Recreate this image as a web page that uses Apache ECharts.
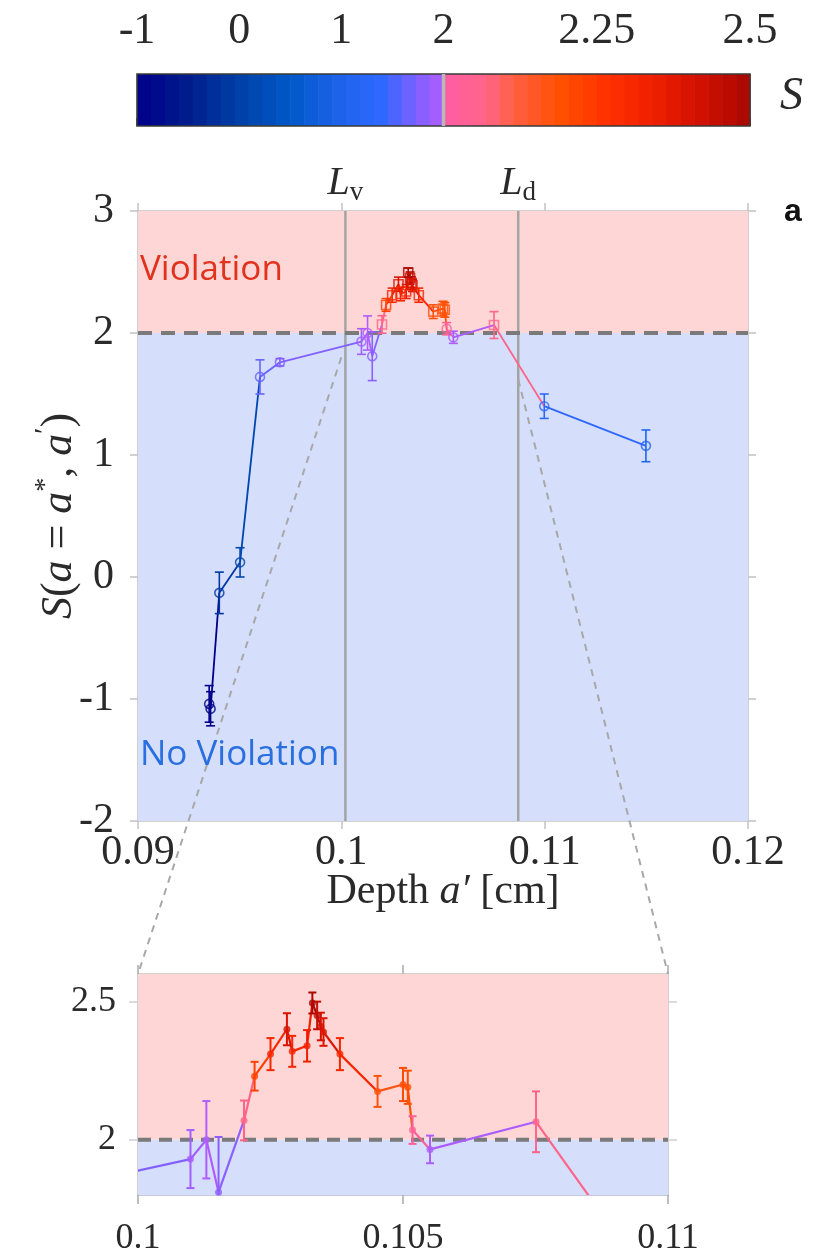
<!DOCTYPE html>
<html>
<head>
<meta charset="utf-8">
<script src="https://cdn.jsdelivr.net/npm/echarts@6/dist/echarts.min.js"></script>
<style>html,body{margin:0;padding:0;background:#fff}#c{width:822px;height:1255px}</style>
</head>
<body>
<div id="c"></div>
<script>
// ---------------- data ----------------
const depth  = [0.09350, 0.09357, 0.09400, 0.09502, 0.09600, 0.09698, 0.10099, 0.10129, 0.10152, 0.10200,
                0.10220, 0.10250, 0.10281, 0.10291, 0.10319, 0.10329, 0.10338, 0.10345, 0.10350, 0.10381,
                0.10452, 0.10500, 0.10509, 0.10518, 0.10551, 0.10751, 0.10998, 0.11498];
const sValue = [-1.04, -1.08, -0.13, 0.12, 1.64, 1.76, 1.93, 2.00, 1.81, 2.07,
                2.23, 2.31, 2.40, 2.32, 2.34, 2.495, 2.45, 2.41, 2.39, 2.31,
                2.175, 2.20, 2.19, 2.035, 1.965, 2.065, 1.40, 1.075];
const sError = [0.15, 0.14, 0.17, 0.12, 0.14, 0.03, 0.105, 0.14, 0.20, 0.072,
                0.052, 0.058, 0.058, 0.056, 0.057, 0.038, 0.05, 0.05, 0.05, 0.058,
                0.056, 0.06, 0.06, 0.05, 0.05, 0.11, 0.10, 0.13];
const mainXRange = [0.09, 0.12], mainXStep = 0.01;
const mainYRange = [-2, 3], mainYStep = 1;
const insetXRange = [0.10, 0.11], insetXStep = 0.005;
const insetYRange = [1.8, 2.6];
const insetYTicks = [2, 2.5];
const cbarTicks = [-1, 0, 1, 2, 2.25, 2.5];
const threshold = 2;
const refDepths = [0.1002, 0.1087];     // L_v, L_d
const refSubs = ['v', 'd'];
// colormap stops
const cmapLoS = [-1, -0.5, 0, 0.5, 1, 1.4, 1.75, 2];
const cmapLoC = ['#00008a', '#001c8c', '#0040a8', '#0058c8', '#1e64ec', '#3068ff', '#8060ff', '#b25cff'];
const cmapHiS = [2, 2.07, 2.11, 2.19, 2.27, 2.34, 2.42, 2.5];
const cmapHiC = ['#ff5ea6', '#ff6488', '#ff6048', '#ff5000', '#ff3000', '#f02000', '#d01000', '#a80800'];
const cbarBandsPerHalf = 22;

// ---------------- helpers ----------------
function hex2rgb(h){ return [parseInt(h.slice(1,3),16), parseInt(h.slice(3,5),16), parseInt(h.slice(5,7),16)]; }
function interp(stops, cols, v){
  if (v <= stops[0]) return cols[0];
  if (v >= stops[stops.length-1]) return cols[cols.length-1];
  for (let i=0;i<stops.length-1;i++){
    if (v>=stops[i] && v<=stops[i+1]){
      const t=(v-stops[i])/(stops[i+1]-stops[i]);
      const a=hex2rgb(cols[i]), b=hex2rgb(cols[i+1]);
      const c=a.map((x,k)=>Math.round(x+(b[k]-x)*t));
      return 'rgb('+c.join(',')+')';
    }
  }
  return cols[0];
}
function cmap(s){ return s <= threshold ? interp(cmapLoS, cmapLoC, s) : interp(cmapHiS, cmapHiC, s); }
function sToBar(s){ return s <= 2 ? s + 1 : 3 + (s - 2) * 6; }
function barToS(p){ return p <= 3 ? p - 1 : 2 + (p - 3) / 6; }
function fmtNum(v){ return String(+(+v).toFixed(4)); }

const serif = 'Liberation Serif';
const axisGray = '#c2c2c2';
const textDark = '#2a2a2a';
const pink = '#ffd6d6', blue = '#d5dffb';

// derived tables
const bands = [];
for (let i=0;i<cbarBandsPerHalf;i++) bands.push([i*3/cbarBandsPerHalf, (i+1)*3/cbarBandsPerHalf]);
for (let i=0;i<cbarBandsPerHalf;i++) bands.push([3+i*3/cbarBandsPerHalf, 3+(i+1)*3/cbarBandsPerHalf]);
const errData = depth.map((d,i)=>[d, sValue[i]-sError[i], sValue[i]+sError[i], sValue[i]]);
const segData = [];
for (let i=0;i<depth.length-1;i++) segData.push([depth[i], sValue[i], depth[i+1], sValue[i+1], sValue[i]]);

function clipRect(params){
  const cs=params.coordSys;
  return {type:'rect', shape:{x:cs.x, y:cs.y, width:cs.width, height:cs.height}};
}
function errRender(capHalf, lw){
  return function(params, api){
    const x=api.value(0), lo=api.value(1), hi=api.value(2), s=api.value(3);
    const a=api.coord([x,lo]), b=api.coord([x,hi]);
    const c=cmap(s);
    const st={stroke:c, lineWidth:lw};
    return {type:'group', clipPath:clipRect(params), children:[
      {type:'line', shape:{x1:a[0],y1:a[1],x2:b[0],y2:b[1]}, style:st},
      {type:'line', shape:{x1:a[0]-capHalf,y1:a[1],x2:a[0]+capHalf,y2:a[1]}, style:st},
      {type:'line', shape:{x1:b[0]-capHalf,y1:b[1],x2:b[0]+capHalf,y2:b[1]}, style:st}
    ]};
  };
}
function segRender(lw){
  return function(params, api){
    const a=api.coord([api.value(0), api.value(1)]), b=api.coord([api.value(2), api.value(3)]);
    return {type:'group', clipPath:clipRect(params),
      children:[{type:'line', shape:{x1:a[0],y1:a[1],x2:b[0],y2:b[1]}, style:{stroke:cmap(api.value(4)), lineWidth:lw}}]};
  };
}

const richL = {
  i:{fontFamily:serif, fontStyle:'italic', fontSize:40, fill:textDark, color:textDark, lineHeight:46},
  s:{fontFamily:serif, fontSize:27, fill:textDark, color:textDark, lineHeight:26, verticalAlign:'bottom'}
};
const tickLabel = (size, margin)=>({fontFamily:serif, fontSize:size, color:textDark, margin:margin});

const option = {
  animation:false,
  backgroundColor:'#fff',
  grid:[
    {left:137, top:74, width:613, height:52, containLabel:false, outerBoundsMode:'none'},
    {left:138, top:211, width:610, height:610, containLabel:false, outerBoundsMode:'none'},
    {left:138, top:974, width:530, height:221, containLabel:false, outerBoundsMode:'none'}
  ],
  xAxis:[
    {gridIndex:0, type:'value', min:0, max:6, position:'top',
      axisLine:{show:false}, splitLine:{show:false},
      axisTick:{show:true, customValues:cbarTicks.map(sToBar), length:8, lineStyle:{color:'#333', width:1.5}},
      axisLabel:{customValues:cbarTicks.map(sToBar), formatter:v=>fmtNum(barToS(v)), ...tickLabel(44, 21)}},
    {gridIndex:1, type:'value', min:mainXRange[0], max:mainXRange[1], interval:mainXStep,
      axisLine:{show:true, onZero:false, lineStyle:{color:axisGray, width:1.5}},
      axisTick:{show:true, length:8, lineStyle:{color:axisGray, width:1.5}},
      splitLine:{show:false},
      axisLabel:{formatter:v=>fmtNum(v), ...tickLabel(42, 11)},
      name:'{r|Depth }{i|a′}{r| [cm]}', nameLocation:'middle', nameGap:50, nameMoveOverlap:false,
      nameTextStyle:{rich:{r:{fontFamily:serif, fontSize:42, color:textDark}, i:{fontFamily:serif, fontStyle:'italic', fontSize:42, color:textDark}}}},
    {gridIndex:1, type:'value', min:mainXRange[0], max:mainXRange[1], interval:mainXStep, position:'top',
      axisLine:{show:true, onZero:false, lineStyle:{color:axisGray, width:1.5}},
      axisTick:{show:true, length:8, lineStyle:{color:axisGray, width:1.5}},
      axisLabel:{show:false}, splitLine:{show:false}},
    {gridIndex:2, type:'value', min:insetXRange[0], max:insetXRange[1], interval:insetXStep,
      axisLine:{show:true, onZero:false, lineStyle:{color:'#b4b8cc', width:1.5}},
      axisTick:{show:true, length:9, lineStyle:{color:'#aaa', width:1.5}},
      splitLine:{show:false},
      axisLabel:{formatter:v=>fmtNum(v), ...tickLabel(36, 26)}},
    {gridIndex:2, type:'value', min:insetXRange[0], max:insetXRange[1], interval:insetXStep, position:'top',
      axisLine:{show:true, onZero:false, lineStyle:{color:axisGray, width:1.5}},
      axisTick:{show:true, length:9, lineStyle:{color:'#aaa', width:1.5}},
      axisLabel:{show:false}, splitLine:{show:false}}
  ],
  yAxis:[
    {gridIndex:0, type:'value', min:0, max:1, show:false},
    {gridIndex:1, type:'value', min:mainYRange[0], max:mainYRange[1], interval:mainYStep,
      axisLine:{show:true, onZero:false, lineStyle:{color:axisGray, width:1.5}},
      axisTick:{show:true, length:8, lineStyle:{color:axisGray, width:1.5}},
      splitLine:{show:false},
      axisLabel:tickLabel(42, 24),
      name:'{i|S}{r|(}{i|a}{r| = }{i|a}{sup|*}{r|, }{i|a}{sup|′}{r|)}', nameLocation:'middle', nameGap:52, nameRotate:90,
      nameMoveOverlap:false,
      nameTextStyle:{rich:{
        r:{fontFamily:serif, fontSize:44, color:textDark, lineHeight:54},
        i:{fontFamily:serif, fontStyle:'italic', fontSize:44, color:textDark, lineHeight:54},
        sup:{fontFamily:serif, fontSize:28, color:textDark, lineHeight:30, verticalAlign:'top'}}}},
    {gridIndex:1, type:'value', min:mainYRange[0], max:mainYRange[1], interval:mainYStep, position:'right',
      axisLine:{show:true, onZero:false, lineStyle:{color:axisGray, width:1.5}},
      axisTick:{show:true, length:8, lineStyle:{color:axisGray, width:1.5}},
      axisLabel:{show:false}, splitLine:{show:false}},
    {gridIndex:2, type:'value', min:insetYRange[0], max:insetYRange[1],
      axisLine:{show:true, onZero:false, lineStyle:{color:axisGray, width:1.5}},
      axisTick:{show:true, customValues:insetYTicks, length:9, lineStyle:{color:'#cfcfcf', width:1.5}},
      splitLine:{show:false},
      axisLabel:{customValues:insetYTicks, formatter:v=>fmtNum(v), ...tickLabel(36, 22)}},
    {gridIndex:2, type:'value', min:insetYRange[0], max:insetYRange[1], position:'right',
      axisLine:{show:true, onZero:false, lineStyle:{color:axisGray, width:1.5}},
      axisTick:{show:true, customValues:insetYTicks, length:9, lineStyle:{color:'#cfcfcf', width:1.5}},
      axisLabel:{show:false}, splitLine:{show:false}}
  ],
  series:[
    // colour bar
    {type:'custom', xAxisIndex:0, yAxisIndex:0, data:bands, silent:true,
      renderItem:function(params, api){
        const p0=api.value(0), p1=api.value(1);
        const a=api.coord([p0,1]), b=api.coord([p1,0]);
        return {type:'rect', shape:{x:a[0], y:a[1], width:b[0]-a[0]+0.6, height:b[1]-a[1]},
          style:{fill:cmap(barToS((p0+p1)/2))}};
      }},
    {type:'line', xAxisIndex:0, yAxisIndex:0, data:[[sToBar(threshold),0],[sToBar(threshold),1]], symbol:'none', silent:true,
      lineStyle:{color:'#b8b8b8', width:3.5}},
    {type:'custom', xAxisIndex:0, yAxisIndex:0, data:[[0,6]], silent:true,
      renderItem:function(params, api){
        const a=api.coord([api.value(0),1]), b=api.coord([api.value(1),0]);
        return {type:'rect', shape:{x:a[0], y:a[1], width:b[0]-a[0], height:b[1]-a[1]},
          style:{fill:'none', stroke:'#3a3a3a', lineWidth:1.6}};
      }},
    // main plot: background regions
    {type:'line', xAxisIndex:1, yAxisIndex:1, data:[], silent:true, z:1,
      markArea:{silent:true, data:[
        [{yAxis:threshold, itemStyle:{color:pink}}, {yAxis:mainYRange[1]}],
        [{yAxis:mainYRange[0], itemStyle:{color:blue}}, {yAxis:threshold}]
      ]}},
    // L_v, L_d reference lines
    {type:'custom', xAxisIndex:1, yAxisIndex:1, data:refDepths.map(d=>[d]), silent:true, z:2,
      renderItem:function(params, api){
        const x=api.value(0);
        const top=api.coord([x, mainYRange[1]]), bot=api.coord([x, mainYRange[0]]);
        return {type:'group', children:[
          {type:'line', shape:{x1:top[0], y1:top[1], x2:bot[0], y2:bot[1]}, style:{stroke:'#a4a4a4', lineWidth:2.5}},
          {type:'text', style:{x:top[0], y:top[1]-5, text:'{i|L}{s|'+refSubs[params.dataIndex]+'}', rich:richL,
            align:'center', verticalAlign:'bottom'}}
        ]};
      }},
    // threshold dashed line (main)
    {type:'line', xAxisIndex:1, yAxisIndex:1, data:[[mainXRange[0], threshold],[mainXRange[1], threshold]], symbol:'none', silent:true, z:2,
      lineStyle:{color:'#7a7a7a', width:4, type:[14,9]}},
    {type:'custom', xAxisIndex:1, yAxisIndex:1, data:segData, renderItem:segRender(1.8), silent:true, z:3},
    {type:'custom', xAxisIndex:1, yAxisIndex:1, data:errData, renderItem:errRender(4.5, 1.6), silent:true, z:4},
    {type:'scatter', xAxisIndex:1, yAxisIndex:1, silent:true, z:5, symbolSize:9,
      data:depth.map((d,i)=>({value:[d, sValue[i]], symbol: sValue[i] > 2.05 ? 'rect' : 'circle',
        itemStyle:{color:'rgba(255,255,255,0)', borderColor:cmap(sValue[i]), borderWidth:1.6}}))},
    // inset
    {type:'line', xAxisIndex:3, yAxisIndex:3, data:[], silent:true, z:1,
      markArea:{silent:true, data:[
        [{yAxis:threshold, itemStyle:{color:pink}}, {yAxis:insetYRange[1]}],
        [{yAxis:insetYRange[0], itemStyle:{color:blue}}, {yAxis:threshold}]
      ]}},
    {type:'line', xAxisIndex:3, yAxisIndex:3, data:[[insetXRange[0], threshold],[insetXRange[1], threshold]], symbol:'none', silent:true, z:2,
      lineStyle:{color:'#7a7a7a', width:4, type:[13,8]}},
    {type:'custom', xAxisIndex:3, yAxisIndex:3, data:segData, renderItem:segRender(2.2), silent:true, z:3},
    {type:'custom', xAxisIndex:3, yAxisIndex:3, data:errData, renderItem:errRender(4, 2), silent:true, z:4},
    {type:'scatter', xAxisIndex:3, yAxisIndex:3, silent:true, z:5, symbolSize:7, clip:true,
      data:depth.map((d,i)=>({value:[d, sValue[i]], itemStyle:{color:cmap(sValue[i])}}))}
  ]
};

const chart = echarts.init(document.getElementById('c'));
chart.setOption(option);

// zoom connector lines (data coordinates of main plot -> inset corners)
const zoomFromL = chart.convertToPixel({gridIndex:1}, [insetXRange[0], insetYRange[0]]);
const zoomFromR = chart.convertToPixel({gridIndex:1}, [refDepths[1], 1.62]);
const zoomToL = chart.convertToPixel({gridIndex:2}, [insetXRange[0], insetYRange[1]]);
const zoomToR = chart.convertToPixel({gridIndex:2}, [insetXRange[1], insetYRange[1]]);
const dashStyle = {stroke:'#a8a8a8', lineWidth:2, lineDash:[7,6]};
chart.setOption({graphic:[
  {type:'line', z:2, shape:{x1:zoomFromL[0], y1:zoomFromL[1], x2:zoomToL[0], y2:zoomToL[1]}, style:dashStyle, silent:true},
  {type:'line', z:2, shape:{x1:zoomFromR[0], y1:zoomFromR[1], x2:zoomToR[0], y2:zoomToR[1]}, style:dashStyle, silent:true},
  {type:'text', left:780, top:74, style:{text:'S', fontFamily:serif, fontStyle:'italic', fontSize:46, fill:textDark}},
  {type:'text', left:784, top:196, style:{text:'a', fontFamily:'Liberation Sans', fontWeight:'bold', fontSize:32, fill:'#111'}},
  {type:'text', left:140, top:253, z:10, style:{text:'Violation', fontFamily:'Open Sans', fontSize:35, fill:'#e0321c'}},
  {type:'text', left:140, top:738, z:10, style:{text:'No Violation', fontFamily:'Open Sans', fontSize:35, fill:'#2a6fe0'}}
]});
</script>
</body>
</html>
